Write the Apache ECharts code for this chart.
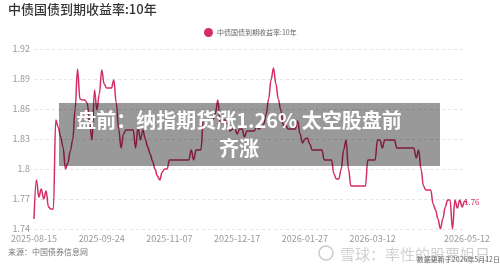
<!DOCTYPE html>
<html>
<head>
<meta charset="utf-8">
<script src="https://cdn.jsdelivr.net/npm/echarts@6/dist/echarts.min.js"></script>
<style>
  html, body { margin: 0; padding: 0; background: #fff; }
  #chart { width: 500px; height: 269px; }
</style>
</head>
<body>
<div id="chart"></div>
<script>
var seriesName = '中债国债到期收益率:10年';
// 横轴刻度：数据点序号 -> 日期
var tickIndex = [0, 28, 56, 84, 112, 140, 179];
var tickLabels = ['2025-08-15', '2025-09-24', '2025-11-07', '2025-12-17', '2026-01-27', '2026-03-12', '2026-05-12'];
// 收益率 (%)，按交易日
var yields = [
  1.750, 1.789, 1.772, 1.780, 1.770, 1.778, 1.762, 1.760, 1.760, 1.849,
  1.842, 1.832, 1.822, 1.800, 1.806, 1.818, 1.829, 1.860, 1.900, 1.870,
  1.869, 1.869, 1.866, 1.845, 1.829, 1.879, 1.859, 1.875, 1.899, 1.885,
  1.881, 1.881, 1.881, 1.889, 1.866, 1.840, 1.821, 1.835, 1.839, 1.839,
  1.839, 1.839, 1.821, 1.842, 1.829, 1.839, 1.830, 1.822, 1.815, 1.808,
  1.800, 1.793, 1.789, 1.797, 1.800, 1.800, 1.809, 1.809, 1.809, 1.809,
  1.809, 1.809, 1.809, 1.809, 1.809, 1.819, 1.809, 1.819, 1.819, 1.819,
  1.849, 1.849, 1.849, 1.849, 1.849, 1.856, 1.869, 1.845, 1.849, 1.849,
  1.845, 1.838, 1.840, 1.840, 1.835, 1.840, 1.840, 1.832, 1.838, 1.838,
  1.838, 1.838, 1.842, 1.840, 1.842, 1.845, 1.855, 1.870, 1.889, 1.901,
  1.885, 1.870, 1.859, 1.844, 1.844, 1.840, 1.840, 1.840, 1.840, 1.848,
  1.835, 1.826, 1.830, 1.831, 1.825, 1.819, 1.819, 1.819, 1.819, 1.819,
  1.809, 1.809, 1.809, 1.809, 1.795, 1.790, 1.790, 1.800, 1.819, 1.829,
  1.800, 1.783, 1.783, 1.783, 1.783, 1.783, 1.783, 1.783, 1.809, 1.809,
  1.809, 1.809, 1.829, 1.829, 1.821, 1.829, 1.829, 1.829, 1.829, 1.829,
  1.821, 1.821, 1.821, 1.821, 1.821, 1.821, 1.821, 1.821, 1.811, 1.819,
  1.800, 1.783, 1.779, 1.779, 1.779, 1.765, 1.759, 1.750, 1.740, 1.750,
  1.762, 1.769, 1.769, 1.740, 1.769, 1.761, 1.769, 1.762, 1.768, 1.766
];
var lastLabel = '1.76';

(function () {
  var myChart = echarts.init(document.getElementById('chart'));
  var font = '"Noto Sans CJK SC", "Noto Sans", sans-serif';
  var lineColor = '#d42d64';

  var points = yields.map(function (v, i) { return [i, v]; });

  var option = {
    animation: false,
    textStyle: { fontFamily: font },
    title: {
      text: seriesName,
      left: 8,
      top: 3,
      padding: 0,
      textStyle: { fontSize: 13, fontWeight: 500, color: '#333', fontFamily: font }
    },
    legend: {
      left: 199,
      top: 23,
      icon: 'circle',
      itemWidth: 9,
      itemHeight: 9,
      itemGap: 4,
      textStyle: { fontSize: 7, color: '#666', padding: [0, 0, 0, -1] },
      data: [seriesName]
    },
    grid: {
      left: 34,
      right: 33,
      top: 49,
      bottom: 40,
      containLabel: false
    },
    xAxis: {
      type: 'value',
      min: 0,
      max: yields.length - 1,
      axisLine: { show: false },
      axisTick: { show: false },
      splitLine: { show: false },
      axisLabel: {
        customValues: tickIndex,
        color: '#999',
        fontSize: 9,
        margin: 5,
        formatter: function (val) {
          var k = tickIndex.indexOf(Math.round(val));
          return k >= 0 ? tickLabels[k] : '';
        }
      }
    },
    yAxis: {
      type: 'value',
      min: 1.74,
      max: 1.92,
      interval: 0.03,
      axisLine: { show: false },
      axisTick: { show: false },
      axisLabel: { color: '#999', fontSize: 9, margin: 4 },
      splitLine: {
        lineStyle: { color: '#e3e3e3', type: [3, 3], width: 1 }
      }
    },
    series: [{
      name: seriesName,
      type: 'line',
      data: points,
      smooth: 0.4,
      smoothMonotone: 'x',
      symbol: 'none',
      color: lineColor,
      lineStyle: { color: lineColor, width: 1.5 },
      endLabel: {
        show: true,
        formatter: lastLabel,
        color: lineColor,
        fontSize: 8,
        distance: 1,
        offset: [-4, -1]
      }
    }],
    graphic: [
      {
        type: 'rect',
        z: 100,
        shape: { x: 59, y: 103, width: 381, height: 63 },
        style: { fill: 'rgba(0,0,0,0.4)' }
      },
      {
        type: 'text',
        z: 101,
        x: 239,
        y: 120,
        style: {
          text: '盘前：纳指期货涨1.26% 太空股盘前',
          fill: '#fff',
          font: 'bold 20px ' + font,
          align: 'center',
          verticalAlign: 'middle'
        }
      },
      {
        type: 'text',
        z: 101,
        x: 239,
        y: 148,
        style: {
          text: '齐涨',
          fill: '#fff',
          font: 'bold 20px ' + font,
          align: 'center',
          verticalAlign: 'middle'
        }
      },
      {
        type: 'text',
        x: 8,
        y: 252,
        style: {
          text: '来源：中国债券信息网',
          fill: '#777',
          font: '8px ' + font,
          verticalAlign: 'middle'
        }
      },
      {
        type: 'circle',
        z: 50,
        shape: { cx: 326, cy: 253, r: 7 },
        style: { fill: 'none', stroke: 'rgba(150,150,150,0.5)', lineWidth: 1.5 }
      },
      {
        type: 'text',
        z: 50,
        x: 340,
        y: 254,
        style: {
          text: '雪球：率性的股票姐日',
          fill: 'rgba(150,150,150,0.45)',
          font: '15px ' + font,
          verticalAlign: 'middle'
        }
      },
      {
        type: 'text',
        z: 51,
        x: 500,
        y: 259,
        style: {
          text: '数据更新于2026年5月12日',
          fill: '#666',
          font: '7px ' + font,
          align: 'right',
          verticalAlign: 'middle'
        }
      }
    ]
  };

  myChart.setOption(option);
  window.addEventListener('resize', function () {
    myChart.resize();
  });
})();
</script>
</body>
</html>
